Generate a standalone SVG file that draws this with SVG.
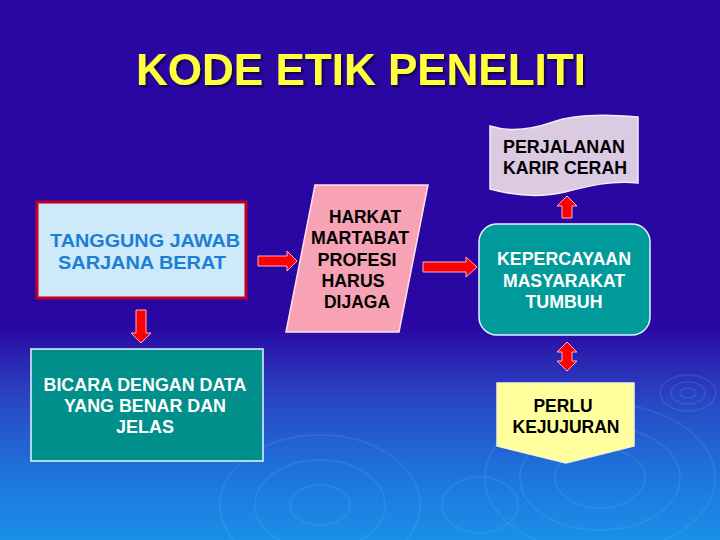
<svg xmlns="http://www.w3.org/2000/svg" width="720" height="540" viewBox="0 0 720 540">
<defs>
<linearGradient id="bg" x1="0" y1="0" x2="0" y2="1">
<stop offset="0" stop-color="#2a06a2"/>
<stop offset="0.6" stop-color="#2a06a2"/>
<stop offset="0.72" stop-color="#2a3ebf"/>
<stop offset="0.86" stop-color="#1f6fd8"/>
<stop offset="1" stop-color="#1a90e8"/>
</linearGradient>
<filter id="sh" x="-5%" y="-20%" width="110%" height="140%">
<feDropShadow dx="2" dy="2" stdDeviation="0.8" flood-color="#000" flood-opacity="0.6"/>
</filter>
<style>
text{font-family:"Liberation Sans",Arial,sans-serif;font-weight:bold;text-anchor:middle}
.arrow{fill:#ff0000;stroke:#ffb0c0;stroke-width:1}
.rip{fill:none;stroke:#7fc8ff;stroke-opacity:0.13;stroke-width:2}
.t{font-size:17.5px}
</style>
</defs>
<rect x="0" y="0" width="720" height="540" fill="url(#bg)"/>
<g id="ripples">
<ellipse class="rip" cx="688" cy="393" rx="28" ry="18"/>
<ellipse class="rip" cx="688" cy="393" rx="17" ry="11"/>
<ellipse class="rip" cx="688" cy="393" rx="8" ry="5"/>
<ellipse class="rip" cx="600" cy="478" rx="115" ry="75"/>
<ellipse class="rip" cx="600" cy="478" rx="80" ry="52"/>
<ellipse class="rip" cx="600" cy="478" rx="45" ry="30"/>
<ellipse class="rip" cx="480" cy="505" rx="38" ry="28"/>
<ellipse class="rip" cx="320" cy="505" rx="100" ry="70"/>
<ellipse class="rip" cx="320" cy="505" rx="65" ry="45"/>
<ellipse class="rip" cx="320" cy="505" rx="30" ry="20"/>
</g>
<text x="361" y="85" font-size="44" fill="#ffff3a" filter="url(#sh)">KODE ETIK PENELITI</text>
<g id="connectors">
<path class="arrow" d="M136,310 H146 V333 H151 L141,343 L131,333 H136 Z"/>
<path class="arrow" d="M258,256 H287 V251 L297,261 L287,271 V266 H258 Z"/>
<path class="arrow" d="M423,262 H466 V257 L477,267 L466,277 V272 H423 Z"/>
<path class="arrow" d="M562,218 V206 H557 L567,196 L577,206 H572 V218 Z"/>
<path class="arrow" d="M562,352 V361 H557 L567,371 L577,361 H572 V352 H577 L567,342 L557,352 Z"/>
</g>
<g id="tanggung">
<rect x="37" y="202" width="209" height="96" fill="#cde9fa" stroke="#c0001f" stroke-width="3"/>
<text x="145" y="247" font-size="18" fill="#1c7fd6" textLength="190" lengthAdjust="spacingAndGlyphs">TANGGUNG JAWAB</text>
<text x="142" y="269" font-size="18" fill="#1c7fd6" textLength="168" lengthAdjust="spacingAndGlyphs">SARJANA BERAT</text>
</g>
<g id="bicara">
<rect x="31" y="349" width="232" height="112" fill="#008f8a" stroke="#e8f4ff" stroke-width="1.5"/>
<text x="145" y="391" class="t" fill="#ffffff" textLength="203" lengthAdjust="spacingAndGlyphs">BICARA DENGAN DATA</text>
<text x="145" y="412" class="t" fill="#ffffff" textLength="162" lengthAdjust="spacingAndGlyphs">YANG BENAR DAN</text>
<text x="145" y="433" class="t" fill="#ffffff" textLength="58" lengthAdjust="spacingAndGlyphs">JELAS</text>
</g>
<g id="harkat">
<polygon points="315,185 428,185 399,332 286,332" fill="#f7a3b5" stroke="#ffe0ea" stroke-width="1.5"/>
<text x="365" y="223" class="t" fill="#000" textLength="72" lengthAdjust="spacingAndGlyphs">HARKAT</text>
<text x="360" y="244" class="t" fill="#000" textLength="98" lengthAdjust="spacingAndGlyphs">MARTABAT</text>
<text x="357" y="266" class="t" fill="#000" textLength="79" lengthAdjust="spacingAndGlyphs">PROFESI</text>
<text x="353" y="287" class="t" fill="#000" textLength="63" lengthAdjust="spacingAndGlyphs">HARUS</text>
<text x="357" y="308" class="t" fill="#000" textLength="66" lengthAdjust="spacingAndGlyphs">DIJAGA</text>
</g>
<g id="kepercayaan">
<rect x="479" y="224" width="171" height="111" rx="18" ry="18" fill="#009a9a" stroke="#e0f4ff" stroke-width="1.5"/>
<text x="564" y="265" class="t" fill="#ffffff" textLength="134" lengthAdjust="spacingAndGlyphs">KEPERCAYAAN</text>
<text x="564" y="287" class="t" fill="#ffffff" textLength="122" lengthAdjust="spacingAndGlyphs">MASYARAKAT</text>
<text x="564" y="308" class="t" fill="#ffffff" textLength="77" lengthAdjust="spacingAndGlyphs">TUMBUH</text>
</g>
<g id="perjalanan">
<path d="M490,126 C512,133 533,129 553,122 C575,114 605,114 638,117 L638,183 C612,180 588,186 565,192 C540,198 512,195 490,189 Z" fill="#dcc9e2" stroke="#f4eef8" stroke-width="1.5"/>
<text x="564" y="153" class="t" fill="#000" textLength="122" lengthAdjust="spacingAndGlyphs">PERJALANAN</text>
<text x="565" y="174" class="t" fill="#000" textLength="124" lengthAdjust="spacingAndGlyphs">KARIR CERAH</text>
</g>
<g id="perlu">
<polygon points="497,383 634,383 634,446 566,463 497,446" fill="#ffff9e" stroke="#f4f4d0" stroke-width="1.5"/>
<text x="563" y="412" class="t" fill="#000" textLength="59" lengthAdjust="spacingAndGlyphs">PERLU</text>
<text x="566" y="433" class="t" fill="#000" textLength="107" lengthAdjust="spacingAndGlyphs">KEJUJURAN</text>
</g>
</svg>
